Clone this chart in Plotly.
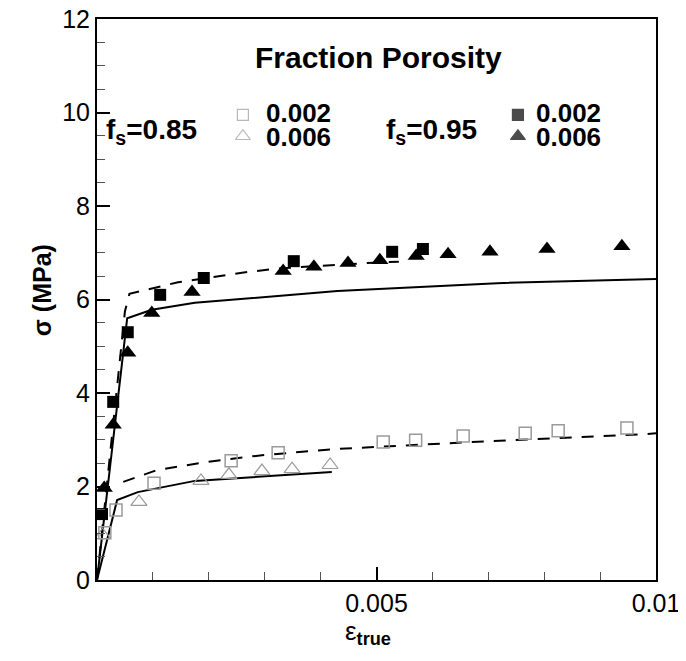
import plotly.graph_objects as go

# ---- data (strain, stress MPa) ----
sq85_x = [0.00014, 0.00034, 0.00102, 0.0024, 0.00324, 0.00512, 0.0057, 0.00655, 0.00766, 0.00825, 0.00948]
sq85_y = [1.01, 1.50, 2.07, 2.55, 2.72, 2.95, 2.99, 3.08, 3.14, 3.19, 3.25]

tr85_x = [0.0001, 0.00075, 0.00186, 0.00236, 0.00295, 0.00349, 0.00417]
tr85_y = [0.96, 1.67, 2.12, 2.25, 2.33, 2.37, 2.46]

sq95_x = [0.00009, 0.00029, 0.00055, 0.00113, 0.00191, 0.00352, 0.00528, 0.00583]
sq95_y = [1.41, 3.81, 5.30, 6.10, 6.46, 6.82, 7.02, 7.08]

tr95_x = [0.00013, 0.00029, 0.00055, 0.00098, 0.0017, 0.00333, 0.00388, 0.00449, 0.00506,
          0.00571, 0.00628, 0.00703, 0.00805, 0.00939]
tr95_y = [1.97, 3.32, 4.86, 5.71, 6.16, 6.61, 6.70, 6.78, 6.84, 6.93, 6.97, 7.02, 7.08, 7.14]

# model curves
sol85_x = [0.0, 0.00036, 0.00073, 0.00175, 0.0042]
sol85_y = [0.0, 1.71, 1.88, 2.12, 2.31]

dash85_x = [0.00047, 0.00107, 0.00193, 0.00295, 0.00426, 0.00667, 0.00984, 0.01]
dash85_y = [2.10, 2.35, 2.52, 2.67, 2.80, 2.95, 3.12, 3.14]

sol95_x = [0.0, 0.00054, 0.00098, 0.00175, 0.00430, 0.00716, 0.01]
sol95_y = [0.0, 5.60, 5.78, 5.93, 6.18, 6.35, 6.44]

dash95_x = [0.0, 0.0005, 0.00058, 0.00086, 0.00145, 0.0027, 0.00331, 0.00483, 0.0054]
dash95_y = [0.0, 5.75, 6.12, 6.20, 6.37, 6.59, 6.67, 6.78, 6.81]

x_ticks = [0, 0.005, 0.01]
x_labels = ["", "0.005", "0.01"]
y_ticks = [0, 2, 4, 6, 8, 10, 12]

GREY = "#9a9a9a"
FONT = "Liberation Sans, Arial, sans-serif"

fig = go.Figure()

line_style = dict(color="black", width=2)
fig.add_trace(go.Scatter(x=sol85_x, y=sol85_y, mode="lines", line=line_style))
fig.add_trace(go.Scatter(x=dash85_x, y=dash85_y, mode="lines",
                         line=dict(color="black", width=2, dash="12px,10px")))
fig.add_trace(go.Scatter(x=sol95_x, y=sol95_y, mode="lines", line=line_style))
fig.add_trace(go.Scatter(x=dash95_x, y=dash95_y, mode="lines",
                         line=dict(color="black", width=2, dash="12px,10px")))

fig.add_trace(go.Scatter(x=sq85_x, y=sq85_y, mode="markers",
                         marker=dict(symbol="square-open", size=12, color=GREY, line=dict(width=1.5, color=GREY))))
fig.add_trace(go.Scatter(x=tr85_x, y=tr85_y, mode="markers",
                         marker=dict(symbol="triangle-up-open", size=14, color=GREY, line=dict(width=1.2, color=GREY))))
fig.add_trace(go.Scatter(x=sq95_x, y=sq95_y, mode="markers",
                         marker=dict(symbol="square", size=12, color="black")))
fig.add_trace(go.Scatter(x=tr95_x, y=tr95_y, mode="markers",
                         marker=dict(symbol="triangle-up", size=15, color="black")))

# legend symbols on an overlay axis spanning the plot area (0..1)
leg_x = [0.261, 0.261, 0.753, 0.753]
leg_y = [0.829, 0.791, 0.829, 0.791]
leg_sym = ["square-open", "triangle-up-open", "square", "triangle-up"]
leg_col = [GREY, GREY, "black", "black"]
leg_size = [11, 13, 11, 13]
fig.add_trace(go.Scatter(x=leg_x, y=leg_y, mode="markers", xaxis="x2", yaxis="y2",
                         marker=dict(symbol=leg_sym, size=leg_size, color=leg_col,
                                     line=dict(width=1.2, color=leg_col))))

# page body has an 8px margin, so the figure is 8px smaller with the margins shifted
fig.update_layout(
    width=678, height=653,
    margin=dict(l=89, r=30, t=11, b=81),
    plot_bgcolor="white", paper_bgcolor="white",
    showlegend=False,
    font=dict(family=FONT, color="black", size=25),
    xaxis=dict(range=[0, 0.01], tickvals=x_ticks, ticktext=x_labels, automargin=False,
               ticklabeloverflow="allow",
               ticks="inside", ticklen=13, tickwidth=2, tickcolor="black",
               minor=dict(dtick=0.001, ticks="inside", ticklen=8, tickwidth=1, tickcolor="#555"),
               showline=True, linecolor="black", linewidth=2, mirror=True,
               showgrid=False, zeroline=False, tickfont=dict(size=25)),
    yaxis=dict(range=[0, 12], tickvals=y_ticks, automargin=False,
               ticklabeloverflow="allow",
               ticks="inside", ticklen=13, tickwidth=2, tickcolor="black",
               minor=dict(dtick=0.5, ticks="inside", ticklen=8, tickwidth=1, tickcolor="#555"),
               showline=True, linecolor="black", linewidth=2, mirror=True,
               showgrid=False, zeroline=False, tickfont=dict(size=25)),
    xaxis2=dict(overlaying="x", range=[0, 1], visible=False),
    yaxis2=dict(overlaying="y", range=[0, 1], visible=False),
)

ann = dict(xref="paper", yref="paper", showarrow=False, yanchor="middle",
           font=dict(family=FONT, size=28, color="black"))
num_font = dict(family=FONT, size=26, color="black")
fig.add_annotation(x=0.503, y=0.932, text="<b>Fraction Porosity</b>", xanchor="center",
                   **{**ann, "font": dict(family=FONT, size=30, color="black")})
fig.add_annotation(x=0.0125, y=0.80, text="<b>f<sub>s</sub>=0.85</b>", xanchor="left", **ann)
fig.add_annotation(x=0.513, y=0.80, text="<b>f<sub>s</sub>=0.95</b>", xanchor="left", **ann)
for xx in [0.299, 0.782]:
    fig.add_annotation(x=xx, y=0.833, text="<b>0.002</b>", xanchor="left", **{**ann, "font": num_font})
    fig.add_annotation(x=xx, y=0.790, text="<b>0.006</b>", xanchor="left", **{**ann, "font": num_font})

# axis titles
fig.add_annotation(x=0.485, y=-0.093, text="ε<sub><b>true</b></sub>", xanchor="center",
                   **{**ann, "font": dict(family=FONT, size=26, color="black")})
fig.add_annotation(x=-0.098, y=0.517, text="<b>σ (MPa)</b>", xanchor="center", textangle=-90,
                   **{**ann, "font": dict(family=FONT, size=25, color="black")})

fig.write_html("out.html")
